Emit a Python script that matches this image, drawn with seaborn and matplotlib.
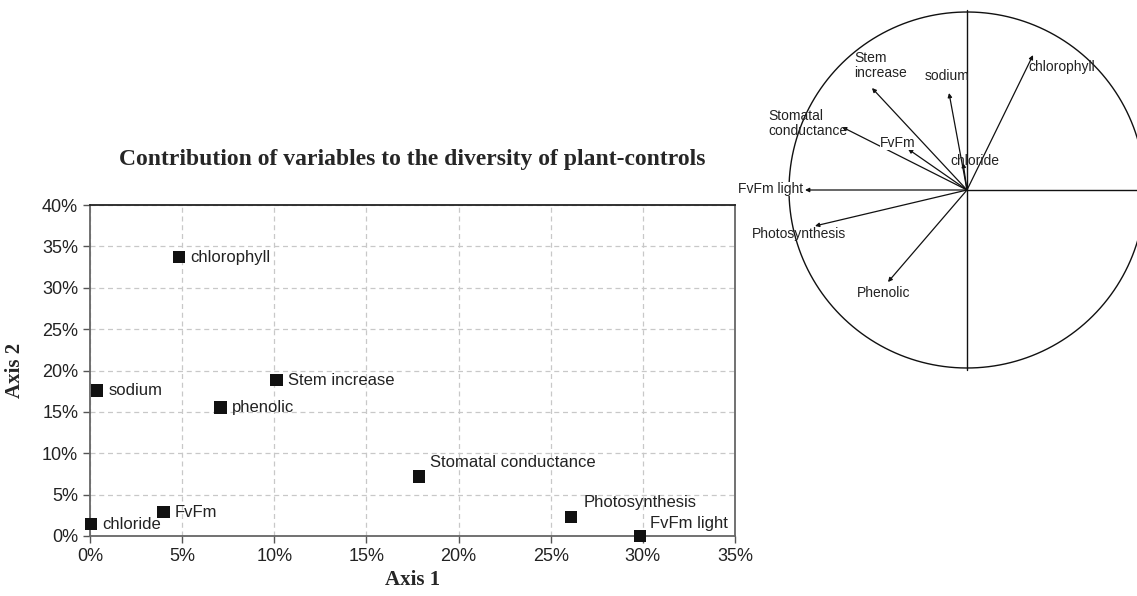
import numpy as np
import pandas as pd
import matplotlib
matplotlib.use("Agg")
import matplotlib.pyplot as plt
import seaborn as sns
from matplotlib.ticker import PercentFormatter

# contribution of each variable to axis 1 / axis 2 (%)
variables = ["chlorophyll", "sodium", "Stem increase", "phenolic", "Stomatal conductance",
             "FvFm", "chloride", "Photosynthesis", "FvFm light"]
axis1 = [4.83, 0.38, 10.13, 7.09, 17.85, 3.98, 0.04, 26.1, 29.84]
axis2 = [33.7, 17.6, 18.85, 15.55, 7.2, 2.9, 1.45, 2.33, 0.0]

# correlation circle loadings (unit circle)
circle_vars = ["chlorophyll", "sodium", "chloride", "Stem\nincrease", "Stomatal\nconductance",
               "FvFm", "FvFm light", "Photosynthesis", "Phenolic"]
load_x = [0.371, -0.101, -0.022, -0.534, -0.702, -0.331, -0.910, -0.854, -0.444]
load_y = [0.758, 0.545, 0.152, 0.573, 0.354, 0.230, 0.0, -0.202, -0.517]

df = pd.DataFrame({"var": variables, "ax1": axis1, "ax2": axis2})

sns.set_theme(style="white")
plt.rcParams["font.family"] = ["Liberation Sans", "DejaVu Sans"]

fig = plt.figure(figsize=(11.37, 5.96), dpi=100)

# ---- scatter of contributions
ax = fig.add_axes([90 / 1137, 1 - 536 / 596, 645 / 1137, 331 / 596])
sns.scatterplot(data=df, x="ax1", y="ax2", marker="s", s=80, color="#111111",
                edgecolor="none", ax=ax, zorder=3, clip_on=False)

# label offsets in points (layout only)
offsets = {"Stomatal conductance": (8, 10), "Photosynthesis": (9, 10), "FvFm light": (7, 9)}
for name, x, y in zip(variables, axis1, axis2):
    dx, dy = offsets.get(name, (8, 0))
    ax.annotate(name, (x, y), xytext=(dx, dy), textcoords="offset points",
                ha="left", va="center", fontsize=12, color="#222222")

ax.set_xlim(0, 35)
ax.set_ylim(0, 40)
ax.set_xticks(np.arange(0, 36, 5))
ax.set_yticks(np.arange(0, 41, 5))
ax.xaxis.set_major_formatter(PercentFormatter(decimals=0))
ax.yaxis.set_major_formatter(PercentFormatter(decimals=0))
ax.grid(True, ls=(0, (4, 3)), color="#c8c8c8", lw=0.9)
ax.tick_params(axis="both", labelsize=13, length=5, width=1, color="#555555",
               direction="out", bottom=True, left=True, labelcolor="#222222")
for side in ["left", "bottom", "right"]:
    ax.spines[side].set_color("#666666")
    ax.spines[side].set_linewidth(1.3)
ax.spines["top"].set_color("#222222")
ax.spines["top"].set_linewidth(1.3)

serif = ["Liberation Serif", "DejaVu Serif"]
ax.set_xlabel("Axis 1", family=serif, fontweight="bold", fontsize=15, labelpad=4)
ax.set_ylabel("Axis 2", family=serif, fontweight="bold", fontsize=15, labelpad=12)
ax.set_title("Contribution of variables to the diversity of plant-controls",
             family=serif, fontweight="bold", fontsize=17, pad=29)

# ---- correlation circle
cx, cy, r = 967, 190, 178
left, right, bottom, top = 738, 1137, 375, 5
cax = fig.add_axes([left / 1137, 1 - bottom / 596, (right - left) / 1137, (bottom - top) / 596])
cax.set_xlim((left - cx) / r, (right - cx) / r)
cax.set_ylim((cy - bottom) / r, (cy - top) / r)
cax.axis("off")

t = np.linspace(0, 2 * np.pi, 400)
cax.plot(np.cos(t), np.sin(t), color="#111111", lw=1.0, zorder=1)
cax.plot([0, 0], [-1.01, 1.01], color="#111111", lw=1.0, zorder=1)
cax.plot([0, 1.1], [0, 0], color="#111111", lw=1.0, zorder=1)

for lx, ly in zip(load_x, load_y):
    cax.annotate("", xy=(lx, ly), xytext=(0, 0),
                 arrowprops=dict(arrowstyle="-|>", color="#111111", lw=0.9,
                                 mutation_scale=6, shrinkA=0, shrinkB=0), zorder=2)

# label anchors in circle units (layout only)
label_pos = [(0.343, 0.691, "left"), (-0.112, 0.64, "center"), (0.045, 0.163, "center"),
             (-0.635, 0.70, "left"), (-1.118, 0.376, "left"), (-0.388, 0.264, "center"),
             (-0.921, 0.006, "right"), (-1.208, -0.247, "left"), (-0.618, -0.579, "left")]
masked = {"FvFm", "FvFm light"}
for name, (px, py, ha) in zip(circle_vars, label_pos):
    box = dict(facecolor="white", edgecolor="none", pad=0.3) if name in masked else None
    cax.text(px, py, name, ha=ha, va="center", fontsize=10, color="#222222",
             linespacing=1.1, zorder=3, bbox=box)

fig.savefig("out.png", dpi=100)
